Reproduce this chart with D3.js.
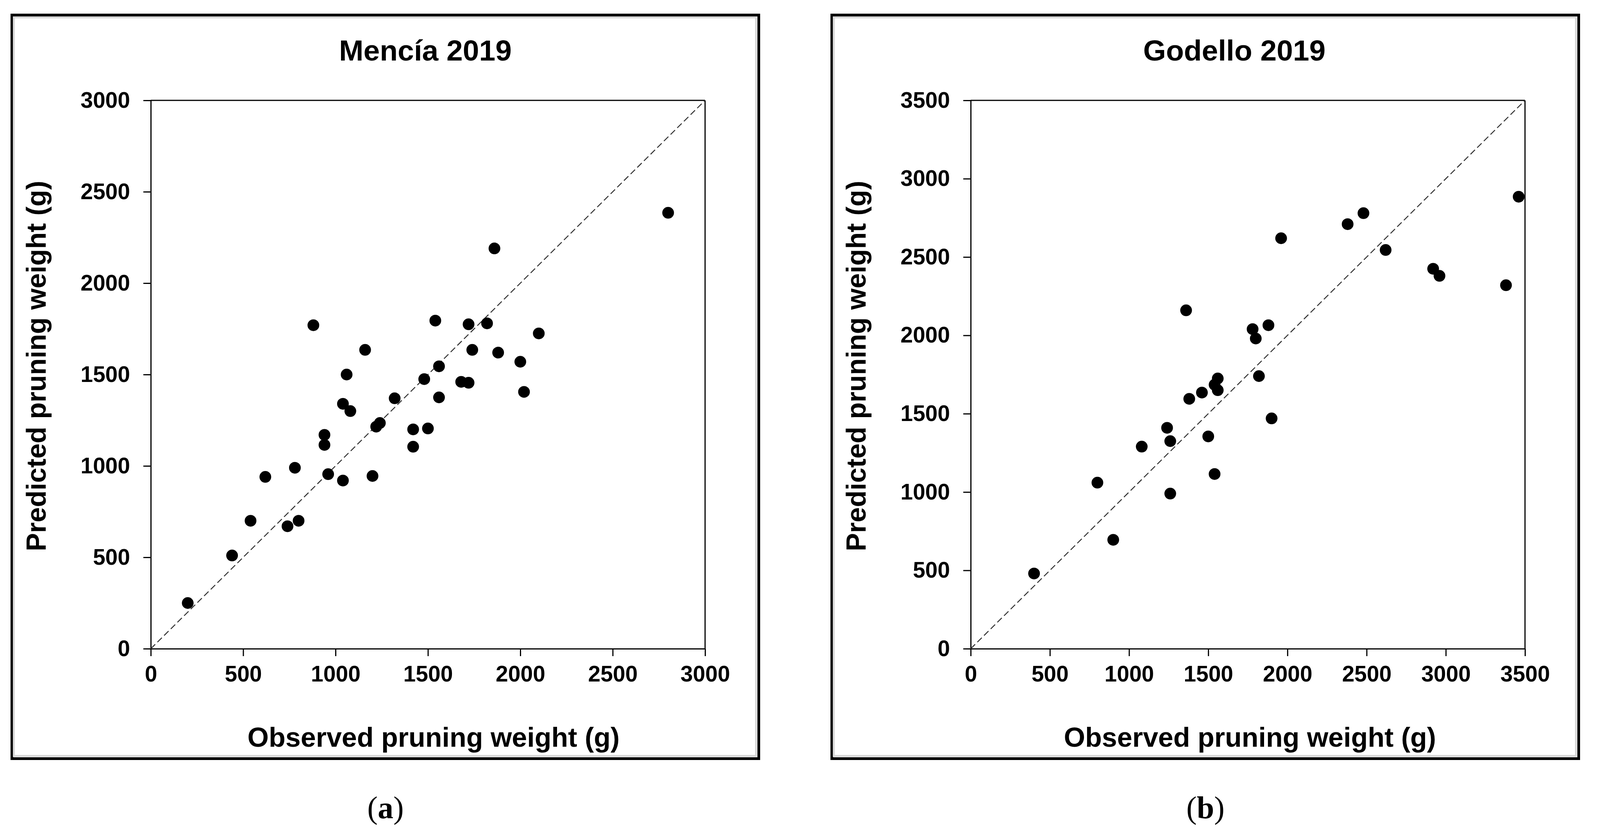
<!DOCTYPE html>
<html>
<head>
<meta charset="utf-8">
<script src="https://cdn.jsdelivr.net/npm/d3@7"></script>
<style>
  body { margin: 0; background: #fff; }
  svg { display: block; }
  .tick text { font-family: "Liberation Sans", Arial, sans-serif; font-weight: bold; }
</style>
</head>
<body>
<svg id="chart" width="4106" height="2138"></svg>
<script>
// Mencía 2019: observed vs predicted pruning weight (g)
const menciaObs  = [200, 440, 540, 620, 740, 800, 780, 880, 940, 940, 960, 1040, 1040, 1060, 1080, 1160, 1200, 1220, 1240, 1320, 1420, 1420, 1500, 1480, 1540, 1560, 1560, 1680, 1720, 1720, 1740, 1820, 1860, 1880, 2000, 2020, 2100, 2800];
const menciaPred = [250, 510, 700, 940, 670, 700, 990, 1770, 1170, 1115, 955, 920, 1340, 1500, 1300, 1635, 945, 1215, 1235, 1370, 1200, 1105, 1205, 1475, 1795, 1545, 1375, 1460, 1455, 1775, 1635, 1780, 2190, 1620, 1570, 1405, 1725, 2385];

// Godello 2019
const godelloObs  = [400, 800, 900, 1080, 1240, 1260, 1260, 1360, 1380, 1460, 1500, 1540, 1560, 1560, 1540, 1780, 1800, 1880, 1820, 1900, 1960, 2380, 2480, 2620, 2920, 2960, 3380, 3460];
const godelloPred = [480, 1060, 695, 1290, 1410, 1325, 990, 2160, 1595, 1635, 1355, 1685, 1725, 1650, 1115, 2040, 1980, 2065, 1740, 1470, 2620, 2710, 2780, 2545, 2425, 2380, 2320, 2885];

const titles = ["Mencía 2019", "Godello 2019"];
const letters = ["a", "b"];
const ticksMencia = [0, 500, 1000, 1500, 2000, 2500, 3000];
const ticksGodello = [0, 500, 1000, 1500, 2000, 2500, 3000, 3500];
const xLabel = "Observed pruning weight (g)";
const yLabel = "Predicted pruning weight (g)";

const panels = [
  {x0: 27,   obs: menciaObs,  pred: menciaPred,  ticks: ticksMencia,  title: titles[0], letter: letters[0], titleX: 1062, xlabX: 1083},
  {x0: 2126, obs: godelloObs, pred: godelloPred, ticks: ticksGodello, title: titles[1], letter: letters[1], titleX: 1034, xlabX: 1074}
];

const svg = d3.select('#chart');
const sans = '"Liberation Sans", Arial, sans-serif';

panels.forEach(p => {
  const g = svg.append('g').attr('transform', `translate(${p.x0},0)`);

  // frame: black border with thin grey inner line
  g.append('rect').attr('x', 3.5).attr('y', 38.5).attr('width', 1912).attr('height', 1904)
    .attr('fill', 'none').attr('stroke', '#000').attr('stroke-width', 7);
  g.append('rect').attr('x', 8.5).attr('y', 44.5).attr('width', 1900).attr('height', 1891)
    .attr('fill', 'none').attr('stroke', '#d9d9d9').attr('stroke-width', 5);

  const left = 359, top = 257, w = 1419, h = 1404;
  const max = d3.max(p.ticks);
  const x = d3.scaleLinear().domain([0, max]).range([left, left + w]);
  const y = d3.scaleLinear().domain([0, max]).range([top + h, top]);

  // top and right border of plot
  g.append('line').attr('x1', left).attr('x2', left + w).attr('y1', top).attr('y2', top)
    .attr('stroke', '#000').attr('stroke-width', 3);
  g.append('line').attr('x1', left + w).attr('x2', left + w).attr('y1', top).attr('y2', top + h)
    .attr('stroke', '#000').attr('stroke-width', 3);

  const xAxis = d3.axisBottom(x).tickValues(p.ticks).tickSize(19).tickSizeOuter(0).tickPadding(25).tickFormat(d3.format('d'));
  const yAxis = d3.axisLeft(y).tickValues(p.ticks).tickSize(19).tickSizeOuter(0).tickPadding(34).tickFormat(d3.format('d'));

  const gx = g.append('g').attr('transform', `translate(0,${top + h})`).call(xAxis);
  const gy = g.append('g').attr('transform', `translate(${left},0)`).call(yAxis);
  [gx, gy].forEach(a => {
    a.select('.domain').attr('stroke-width', 3);
    a.selectAll('.tick line').attr('stroke-width', 3);
    a.selectAll('.tick text').attr('font-size', 57).attr('fill', '#000');
  });

  // 1:1 line
  g.append('line')
    .attr('x1', x(0)).attr('y1', y(0)).attr('x2', x(max)).attr('y2', y(max))
    .attr('stroke', '#333').attr('stroke-width', 2.5).attr('stroke-dasharray', '16,8');

  g.selectAll('circle.dot')
    .data(p.obs.map((o, i) => [o, p.pred[i]]))
    .enter()
    .append('circle')
    .attr('class', 'dot')
    .attr('cx', d => x(d[0]))
    .attr('cy', d => y(d[1]))
    .attr('r', 15)
    .attr('fill', '#000');

  g.append('text').attr('x', p.titleX).attr('y', 155).attr('text-anchor', 'middle')
    .attr('font-family', sans).attr('font-weight', 'bold').attr('font-size', 75).text(p.title);

  g.append('text').attr('x', p.xlabX).attr('y', 1912).attr('text-anchor', 'middle')
    .attr('font-family', sans).attr('font-weight', 'bold').attr('font-size', 70).text(xLabel);

  g.append('text').attr('transform', `translate(90,937) rotate(-90)`).attr('text-anchor', 'middle')
    .attr('font-family', sans).attr('font-weight', 'bold').attr('font-size', 70).text(yLabel);

  const lt = g.append('text').attr('x', 960).attr('y', 2095).attr('text-anchor', 'middle')
    .attr('font-family', '"Liberation Serif", "Times New Roman", serif').attr('font-size', 80);
  lt.append('tspan').text('(');
  lt.append('tspan').attr('font-weight', 'bold').text(p.letter);
  lt.append('tspan').text(')');
});
</script>
</body>
</html>
